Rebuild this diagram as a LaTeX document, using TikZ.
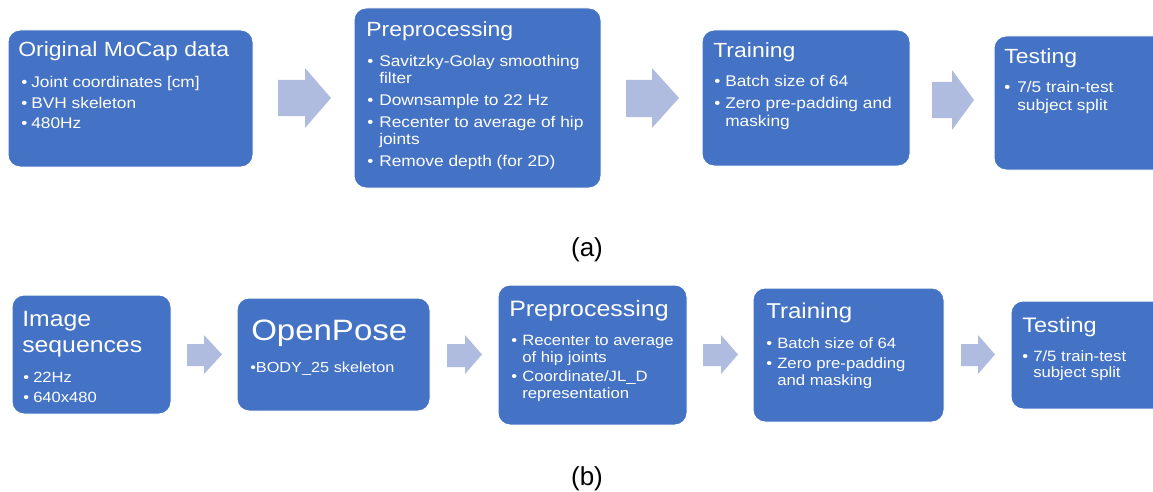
\documentclass[tikz,border=0pt]{standalone}
\usepackage{fontspec}
\setmainfont{Liberation Sans}[FakeStretch=1.12]
\newfontfamily\capfont{Liberation Sans}
\usetikzlibrary{fit}

\definecolor{boxblue}{HTML}{4472C4}
\definecolor{arrowblue}{HTML}{AFBCE0}

% one drawing unit = one pixel of a 96 dpi screen
\newdimen\pxu \pxu=0.75pt
\newdimen\bind

% bullet lists: font size, line skip, bullet indent, lines
\newcommand\bitem[1]{\makebox[\bind][l]{\textbullet}#1}
\newcommand\bcont[1]{\hspace*{\bind}#1}
\newcommand\blist[4]{%
  \parbox[t]{300pt}{\fontsize{#1}{#2}\selectfont\lineskiplimit=-40pt
    \bind=#3\relax\raggedright #4}}

\tikzset{
  stepbox/.style={fill=boxblue, draw=white, line width=0.75pt,
    rounded corners=9pt, inner sep=0pt},
  title/.style={anchor=base west, inner sep=0pt, text=white},
  items/.style={anchor=base west, inner sep=0pt, text=white},
  flow/.style={fill=arrowblue},
  caption/.style={anchor=base, inner sep=0pt,
    font=\capfont\fontsize{19.5pt}{22pt}\selectfont},
}

\begin{document}
\begin{tikzpicture}[x=0.75pt, y=-0.75pt]
\useasboundingbox (0,0) rectangle (1153,492);
\clip (0,0) rectangle (1153,492);

% ---------- (a) motion capture pipeline ----------
\node[stepbox, fit={(8,30) (253,167)}]    (mocap) {};
\node[stepbox, fit={(354,8) (601,188)}]   (prepA) {};
\node[stepbox, fit={(702,30) (910,166)}]  (trainA) {};
\node[stepbox, fit={(994,36) (1175,170)}] (testA) {};

\node[title, font=\fontsize{15.4pt}{18pt}\selectfont] (mocapT) at (18,57) {Original MoCap data};
\node[items] (mocapL) at (21,87.5) {\blist{11.6pt}{15.5pt}{10\pxu}{%
  \bitem{Joint coordinates [cm]}\\
  \bitem{BVH skeleton}\\
  \bitem{480Hz}}};

\node[title, font=\fontsize{15.4pt}{18pt}\selectfont] (prepAT) at (366,37) {Preprocessing};
\node[items] (prepAL) at (367,67) {\blist{11.6pt}{12.75pt}{12\pxu}{%
  \bitem{Savitzky-Golay smoothing}\\
  \bcont{filter}\\[3.75pt]
  \bitem{Downsample to 22 Hz}\\[3.75pt]
  \bitem{Recenter to average of hip}\\
  \bcont{joints}\\[3.75pt]
  \bitem{Remove depth (for 2D)}}};

\node[title, font=\fontsize{15.4pt}{18pt}\selectfont] (trainAT) at (713,58) {Training};
\node[items] (trainAL) at (714,87) {\blist{11.6pt}{13.5pt}{11\pxu}{%
  \bitem{Batch size of 64}\\[2.6pt]
  \bitem{Zero pre-padding and}\\
  \bcont{masking}}};

\node[title, font=\fontsize{15.4pt}{18pt}\selectfont] (testAT) at (1004,64) {Testing};
\node[items] (testAL) at (1004,93) {\blist{11.6pt}{13.5pt}{13\pxu}{%
  \bitem{7/5 train-test}\\
  \bcont{subject split}}};

% block arrows between the steps
\foreach \xa/\xh/\xb/\ya/\yb/\ba/\bb in {
    278/305/331/68/128/80/116,
    626/652/679/68/128/80/117,
    932/952/974/70/130/82/118,
    187/204/222/335/374/344/366,
    447/465/482/335/374/344/367,
    703/721/738/335/374/344/366,
    961/978/995/335/374/344/366}
  \fill[flow] (\xa,\ba) -- (\xh,\ba) -- (\xh,\ya) -- (\xb,{(\ya+\yb)/2})
    -- (\xh,\yb) -- (\xh,\bb) -- (\xa,\bb) -- cycle;

\node[caption] (capA) at (587,256) {(a)};

% ---------- (b) video pipeline ----------
\node[stepbox, fit={(12,295) (171,414)}]    (images) {};
\node[stepbox, fit={(237,298) (430,411)}]   (openpose) {};
\node[stepbox, fit={(498,285) (687,425)}]   (prepB) {};
\node[stepbox, fit={(753,288) (944,422)}]   (trainB) {};
\node[stepbox, fit={(1011,301) (1175,409)}] (testB) {};

\node[title] (imagesT) at (22,326)
  {\parbox[t]{200pt}{\fontsize{16.6pt}{19.5pt}\selectfont Image\\sequences}};
\node[items] (imagesL) at (23,382) {\blist{11.1pt}{15pt}{10\pxu}{%
  \bitem{22Hz}\\
  \bitem{640x480}}};

\node[title, font=\fontsize{22.1pt}{26pt}\selectfont] (openposeT) at (251,340) {OpenPose};
\node[items, font=\fontsize{10.9pt}{13pt}\selectfont] (openposeL) at (250,372) {\textbullet BODY\_25 skeleton};

\node[title, font=\fontsize{16.7pt}{20pt}\selectfont] (prepBT) at (509,316) {Preprocessing};
\node[items] (prepBL) at (511,345) {\blist{11.2pt}{12.75pt}{11\pxu}{%
  \bitem{Recenter to average}\\
  \bcont{of hip joints}\\[1.5pt]
  \bitem{Coordinate/JL\_D}\\
  \bcont{representation}}};

\node[title, font=\fontsize{16.1pt}{19pt}\selectfont] (trainBT) at (766,318) {Training};
\node[items] (trainBL) at (766,348) {\blist{11.2pt}{12.75pt}{11\pxu}{%
  \bitem{Batch size of 64}\\[2.25pt]
  \bitem{Zero pre-padding}\\
  \bcont{and masking}}};

\node[title, font=\fontsize{15.75pt}{19pt}\selectfont] (testBT) at (1022,332) {Testing};
\node[items] (testBL) at (1022,361) {\blist{11.2pt}{12.4pt}{11\pxu}{%
  \bitem{7/5 train-test}\\
  \bcont{subject split}}};

\node[caption] (capB) at (587,485) {(b)};
\end{tikzpicture}
\end{document}
